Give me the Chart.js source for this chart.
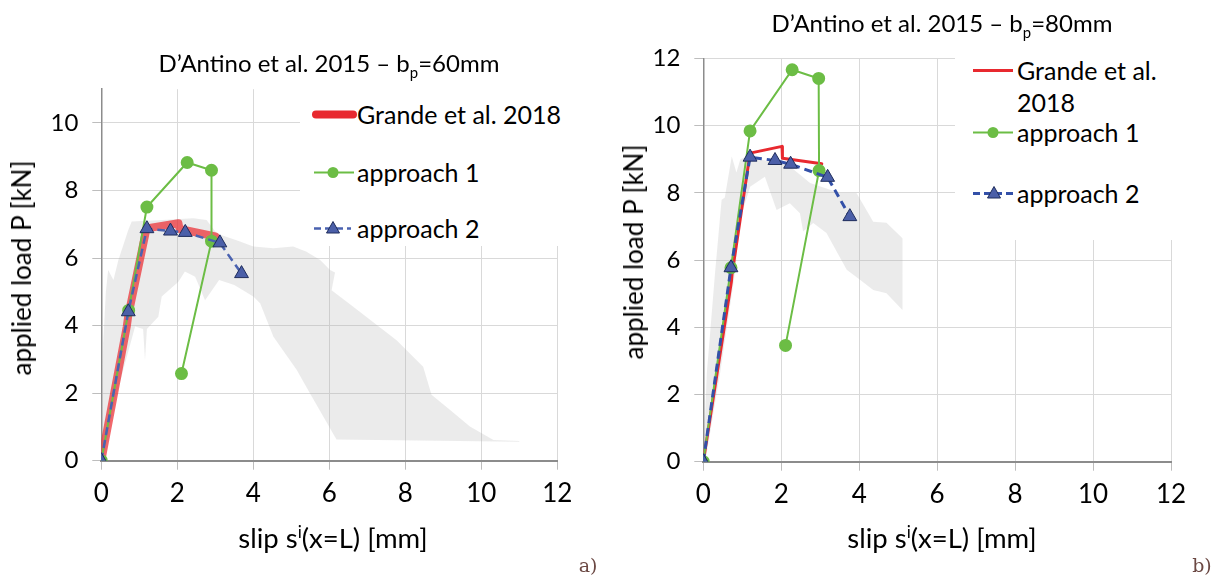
<!DOCTYPE html>
<html>
<head>
<meta charset="utf-8">
<script src="https://cdn.jsdelivr.net/npm/chart.js@4.4.1/dist/chart.umd.min.js"></script>
<style>
  body { margin: 0; background: #fff; }
  #page { position: relative; width: 1218px; height: 578px; overflow: hidden; font-family: Lato, sans-serif; color: #000; }
  canvas { position: absolute; top: 0; }
  .t { position: absolute; white-space: nowrap; transform: translate(-50%, -50%); line-height: 1; }
  .ytitle { transform: translate(-50%, -50%) rotate(-90deg); font-size: 26px; }
  .title { font-size: 24px; }
  .xtitle { font-size: 27.5px; }
  .box { position: absolute; background: #fff; }
  .row { position: absolute; display: flex; align-items: center; font-size: 25px; white-space: nowrap; transform: translateY(-50%); line-height: 1; }
  .tag { position: absolute; font-family: 'DejaVu Serif', 'Liberation Serif', serif; font-size: 19px; color: #6b4843; transform: translate(-50%, -50%); }
  sub, sup { font-size: 62%; line-height: 0; }
</style>
</head>
<body>
<div id="page">
  <canvas id="c60" width="600" height="578" style="left:0"></canvas>
  <canvas id="c80" width="618" height="578" style="left:600px"></canvas>

  <div class="t title" style="left:329px;top:63px">D’Antino et al. 2015 – b<sub>p</sub>=60mm</div>
  <div class="t title" style="left:942px;top:23px">D’Antino et al. 2015 – b<sub>p</sub>=80mm</div>

  <div class="t ytitle" style="left:21px;top:268px">applied load P [kN]</div>
  <div class="t ytitle" style="left:633px;top:252px">applied load P [kN]</div>
  <div class="t xtitle" style="left:333px;top:538px">slip s<sup>i</sup>(x=L) [mm]</div>
  <div class="t xtitle" style="left:942px;top:538px">slip s<sup>i</sup>(x=L) [mm]</div>

  <div class="box" style="left:300px;top:86px;width:300px;height:160px"></div>
  <div class="row" style="left:309px;top:114px">
    <svg width="48" height="20"><line x1="7" y1="10" x2="44" y2="10" stroke="#e8292f" stroke-width="8" stroke-linecap="round"/></svg>Grande et al. 2018</div>
  <div class="row" style="left:309px;top:172px">
    <svg width="48" height="20"><line x1="5" y1="10" x2="45" y2="10" stroke="#6cbd45" stroke-width="2"/><circle cx="24" cy="10" r="5.5" fill="#6cbd45"/></svg>approach 1</div>
  <div class="row" style="left:309px;top:228px">
    <svg width="48" height="20"><line x1="5" y1="10" x2="42" y2="10" stroke="#4a62b0" stroke-width="2.5" stroke-dasharray="7 4"/><polygon points="24,3 30.5,14.5 17.5,14.5" fill="#4b5fa8" stroke="#1f2d5c" stroke-width="1"/></svg>approach 2</div>

  <div class="box" style="left:955px;top:42px;width:263px;height:198px"></div>
  <div class="row" style="left:969px;top:70px">
    <svg width="48" height="20"><line x1="4" y1="10" x2="44" y2="10" stroke="#e8292f" stroke-width="3"/></svg>Grande et al.</div>
  <div class="row" style="left:1017px;top:102px">2018</div>
  <div class="row" style="left:969px;top:132px">
    <svg width="48" height="20"><line x1="4" y1="10" x2="44" y2="10" stroke="#6cbd45" stroke-width="2"/><circle cx="24" cy="10" r="5.5" fill="#6cbd45"/></svg>approach 1</div>
  <div class="row" style="left:969px;top:193px">
    <svg width="48" height="20"><line x1="4" y1="10" x2="44" y2="10" stroke="#3350a8" stroke-width="3" stroke-dasharray="7 4"/><polygon points="25,3 31.5,14.5 18.5,14.5" fill="#4b5fa8" stroke="#1f2d5c" stroke-width="1"/></svg>approach 2</div>

  <div class="tag" style="left:588px;top:565px">a)</div>
  <div class="tag" style="left:1202px;top:565px">b)</div>
</div>

<script>
// tick values
const slipTicks = [0, 2, 4, 6, 8, 10, 12];
const loadTicks60 = [0, 2, 4, 6, 8, 10];
const loadTicks80 = [0, 2, 4, 6, 8, 10, 12];

// b_p = 60 mm
const grande60Slip = [0, 0.67, 0.71, 1.19, 2.03, 2.06, 3.0];
const grande60Load = [0, 3.97, 4.3, 6.88, 7.03, 6.86, 6.64];
const appr1_60Slip = [0, 0.72, 1.2, 2.26, 2.9, 2.9, 2.11];
const appr1_60Load = [0, 4.45, 7.51, 8.83, 8.6, 6.5, 2.58];
const appr2_60Slip = [0, 0.71, 1.2, 1.82, 2.21, 3.12, 3.69];
const appr2_60Load = [0, 4.41, 6.87, 6.8, 6.76, 6.45, 5.54];
// experimental envelope (outline, upper edge then lower edge back)
const exp60Slip = [0, 0.03, 0.05, 0.12, 0.18, 0.32, 0.45, 0.71, 0.8, 1.5, 2.42, 2.77, 3.04, 3.65, 4.0, 4.53, 5.05, 5.4, 5.76, 6.02, 6.15, 6.06, 6.63, 7.77, 8.47, 8.69, 9.18, 9.7, 10.32, 11.0,
                   11.0, 6.19, 5.49, 5.14, 4.53, 4.18, 4.0, 3.5, 3.1, 2.73, 2.47, 2.2, 2.03, 1.59, 1.5, 1.2, 1.15, 1.1, 0.89, 0.36, 0.05];
const exp60Load = [0, 2.0, 3.48, 5.0, 5.65, 5.35, 5.94, 6.83, 7.08, 7.12, 7.18, 7.13, 6.73, 6.49, 6.34, 6.29, 6.34, 6.19, 5.94, 5.65, 5.57, 5.05, 4.56, 3.57, 2.78, 1.95, 1.5, 1.01, 0.61, 0.58,
                   0.56, 0.63, 2.0, 2.69, 3.67, 4.66, 4.86, 5.2, 5.35, 4.75, 5.45, 5.6, 5.3, 4.86, 4.26, 3.9, 2.98, 3.9, 3.97, 1.8, 0];

// b_p = 80 mm
const grande80Slip = [0, 0.72, 0.74, 1.2, 2.02, 2.03, 3.04];
const grande80Load = [0, 5.35, 5.6, 9.18, 9.38, 9.03, 8.86];
const appr1_80Slip = [0, 0.71, 1.2, 2.28, 2.96, 2.97, 2.11];
const appr1_80Load = [0, 5.77, 9.84, 11.66, 11.4, 8.66, 3.46];
const appr2_80Slip = [0, 0.71, 1.2, 1.84, 2.24, 3.19, 3.76];
const appr2_80Load = [0, 5.77, 9.06, 8.96, 8.85, 8.46, 7.29];
const exp80Slip = [0, 0.09, 0.3, 0.47, 0.55, 0.73, 0.85, 0.95, 1.11, 1.71, 2.2, 2.74, 3.5, 3.93, 4.36, 4.7, 5.11, 5.11,
                   4.7, 4.36, 4.02, 3.68, 3.16, 2.82, 2.56, 2.48, 2.22, 1.88, 1.58, 1.2, 0.94, 0.81, 0.43, 0.05];
const exp80Load = [0, 2.63, 5.6, 7.79, 7.85, 9.08, 8.6, 9.0, 9.08, 8.93, 8.8, 8.29, 7.99, 7.99, 7.14, 7.11, 6.65, 4.51,
                   5.01, 5.11, 5.41, 5.71, 6.8, 7.1, 6.85, 7.39, 7.69, 7.49, 8.48, 8.18, 7.19, 5.6, 2.63, 0];

const pts = (xs, ys) => xs.map((x, i) => ({ x: x, y: ys[i] }));

function series(grande, a1, a2, exp, thickRed) {
  return [
    { // approach 2
      data: pts(a2[0], a2[1]), borderColor: thickRed ? '#4a62b0' : '#3350a8', borderWidth: thickRed ? 2.5 : 3,
      borderDash: [8, 5], pointStyle: 'triangle', pointRadius: 8, pointBackgroundColor: '#4b5fa8',
      pointBorderColor: '#1f2d5c', pointBorderWidth: 1, fill: false, tension: 0
    },
    { // approach 1
      data: pts(a1[0], a1[1]), borderColor: '#6cbd45', borderWidth: 2, pointRadius: 5.5,
      pointBackgroundColor: '#6cbd45', pointBorderColor: '#6cbd45', fill: false, tension: 0
    },
    { // Grande et al. 2018
      data: pts(grande[0], grande[1]), borderColor: thickRed ? 'rgba(235,40,45,0.7)' : '#e8292f',
      borderWidth: thickRed ? 8 : 3, borderCapStyle: 'round', borderJoinStyle: 'round',
      pointRadius: 0, fill: false, tension: 0
    },
    { // experimental range
      data: pts(exp[0], exp[1]), borderColor: 'rgba(0,0,0,0)', borderWidth: 0, pointRadius: 0,
      backgroundColor: 'rgba(170,170,170,0.24)', fill: 'shape', tension: 0
    }
  ];
}

function makeChart(id, area, yMax, yTicks, datasets) {
  const cv = document.getElementById(id);
  const gridColor = c => (c.tick && c.tick.value === 0) ? 'rgba(0,0,0,0)' : '#d9d9d9';
  return new Chart(cv, {
    type: 'line',
    data: { datasets: datasets },
    options: {
      responsive: false,
      animation: false,
      events: [],
      layout: { padding: { left: 0, top: area.top, right: cv.width - area.right, bottom: cv.height - area.bottom - 60 } },
      plugins: { legend: { display: false }, tooltip: { enabled: false } },
      scales: {
        x: {
          type: 'linear', min: 0, max: 12,
          afterFit: s => { s.height = 60; },
          afterBuildTicks: s => { s.ticks = slipTicks.map(v => ({ value: v })); },
          ticks: { font: { family: 'Lato', size: 26 }, color: '#000', padding: 8, maxRotation: 0 },
          grid: { color: gridColor, tickColor: '#bdbdbd', tickLength: 9, lineWidth: 1 },
          border: { color: '#8c8c8c', width: 2 }
        },
        y: {
          type: 'linear', min: 0, max: yMax,
          afterFit: s => { s.width = area.left; },
          afterBuildTicks: s => { s.ticks = yTicks.map(v => ({ value: v })); },
          ticks: { font: { family: 'Lato', size: 24 }, color: '#000', padding: 14 },
          grid: { color: gridColor, tickColor: '#bdbdbd', tickLength: 9, lineWidth: 1 },
          border: { color: '#8c8c8c', width: 1.5 }
        }
      }
    }
  });
}

makeChart('c60', { left: 101.3, right: 557.3, top: 89.2, bottom: 460.7 }, 11, loadTicks60,
  series([grande60Slip, grande60Load], [appr1_60Slip, appr1_60Load], [appr2_60Slip, appr2_60Load], [exp60Slip, exp60Load], true));
makeChart('c80', { left: 103.3, right: 571, top: 58.3, bottom: 461.7 }, 12, loadTicks80,
  series([grande80Slip, grande80Load], [appr1_80Slip, appr1_80Load], [appr2_80Slip, appr2_80Load], [exp80Slip, exp80Load], false));
</script>
</body>
</html>
